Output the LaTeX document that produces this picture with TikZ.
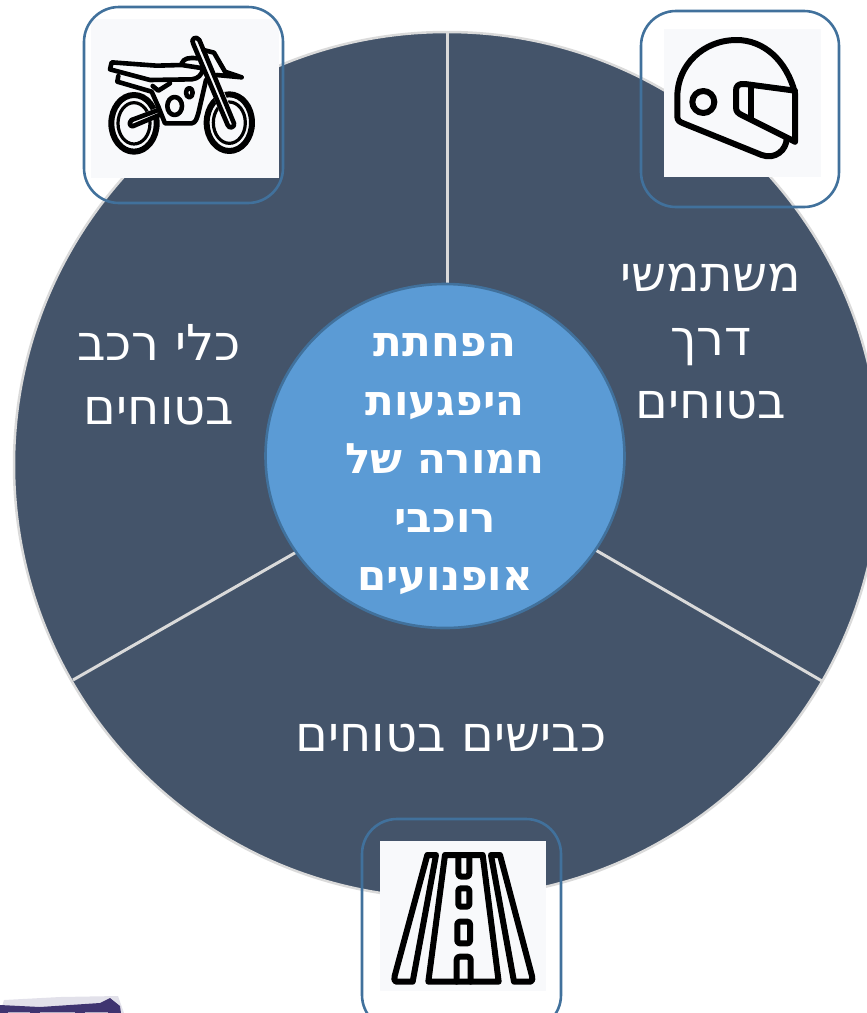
\documentclass[tikz,border=0pt]{standalone}
\usepackage{fontspec}
\setmainfont{DejaVu Sans}
\TeXXeTstate=1
\newcommand{\rl}[1]{\beginR #1\endR}
\definecolor{navy}{HTML}{44546A}
\definecolor{ringc}{HTML}{DADADA}
\definecolor{hubc}{HTML}{5B9BD5}
\definecolor{framec}{HTML}{41719C}
\definecolor{iconbg}{HTML}{F8F9FB}
\definecolor{smear}{HTML}{3F3470}
\tikzset{
 wedgeline/.style={draw=ringc,line width=3pt},
 frame/.style={draw=framec,line width=2.6pt,rounded corners=35pt},
 iconbox/.style={fill=iconbg,draw=none},
 ico/.style={draw=black,line cap=round,line join=round,line width=6pt},
 icom/.style={draw=black,line cap=round,line join=round,line width=4.6pt},
 icot/.style={draw=black,line cap=round,line join=round,line width=3.2pt},
 seglabel/.style={text=white,font=\fontsize{49.5}{63.5}\selectfont,align=center,inner sep=0pt},
 hublabel/.style={text=white,font=\fontsize{42}{58.5}\selectfont\bfseries,align=center,inner sep=0pt},
}
\begin{document}
\begin{tikzpicture}[x=1pt,y=-1pt]
\useasboundingbox (0,0) rectangle (867,1013);
\clip (0,0) rectangle (867,1013);
% main disc
\fill[navy,draw=ringc,line width=2.5pt] (447,465) circle [radius=433];
\coordinate (t1) at (447,32); \coordinate (t2) at (447,290);
\coordinate (l1) at (73,680); \coordinate (l2) at (300,550);
\coordinate (r1) at (822,681); \coordinate (r2) at (592,548);
\draw[wedgeline] (t1) -- (t2);
\draw[wedgeline] (l1) -- (l2);
\draw[wedgeline] (r1) -- (r2);
% hub
\path[fill=hubc,draw=framec,line width=2.6pt] (445,456) ellipse [x radius=179.5,y radius=172];
\node[hublabel] (hub) at (445,464.5) {\rl{הפחתת}\\\rl{היפגעות}\\\rl{חמורה של}\\\rl{רוכבי}\\\rl{אופנועים}};
\node[seglabel] (seg1) at (711,342) {\rl{משתמשי}\\\rl{דרך}\\\rl{בטוחים}};
\node[seglabel] (seg2) at (159,375) {\rl{כלי רכב}\\\rl{בטוחים}};
\node[seglabel] (seg3) at (451,738) {\rl{כבישים בטוחים}};
% icon backgrounds
\fill[iconbox] (664,29) rectangle (821,177);
\fill[iconbox] (91,19) rectangle (279,178);
\fill[iconbox] (380,841) rectangle (546,991);
% helmet
\begin{scope}[shift={(630pt,0pt)},x=0.33333pt,y=-0.33333pt]
 \draw[ico] (495,425) -- (495,280) .. controls (470,180) and (400,120) .. (320,120)
   .. controls (220,120) and (142,195) .. (142,290) -- (142,350)
   .. controls (142,362) and (150,366) .. (160,370) -- (395,465)
   .. controls (435,480) and (470,450) .. (470,415);
 \draw[ico] (495,272) -- (345,252) .. controls (325,250) and (318,258) .. (318,272)
   -- (318,322) .. controls (318,335) and (325,340) .. (335,345) -- (495,425);
 \draw[ico] (362,262) -- (362,352);
 \draw[ico] (220,306) circle [radius=33];
\end{scope}
% motorcycle
\begin{scope}[shift={(60pt,0pt)},x=0.33333pt,y=-0.33333pt]
 \draw[ico] (222,370) ellipse [x radius=68,y radius=85];
 \draw[icot] (222,370) ellipse [x radius=48,y radius=62];
 \draw[ico] (508,368) ellipse [x radius=68,y radius=85];
 \draw[icot] (508,368) ellipse [x radius=48,y radius=62];
 \fill[iconbg] (392,118) -- (425,105) -- (530,370) -- (498,385) -- cycle;
 \fill[iconbg] (210,355) -- (295,322) -- (305,345) -- (220,385) -- cycle;
 \draw[icom] (215,360) -- (295,330);
 \draw[icom] (220,378) -- (298,345);
 \draw[icom] (215,360) .. controls (205,368) and (210,382) .. (220,378);
 \draw[icom] (400,132) .. controls (390,118) and (408,105) .. (418,120) -- (522,370) .. controls (525,382) and (508,388) .. (503,375) -- cycle;
 \draw[icom] (155,187) -- (150,208) -- (270,240) -- (395,238) .. controls (415,236) and (425,225) .. (430,205) -- (365,195) -- (290,197) -- cycle;
 \draw[icom] (365,190) .. controls (372,175) and (385,172) .. (412,175);
 \draw[icom] (430,150) -- (462,158) -- (495,215) -- (545,232) -- (470,225);
 \draw[icom] (175,228) -- (172,245) -- (275,275) -- (295,320);
 \draw[icom] (278,258) -- (295,272) -- (330,250);
 \draw[icom] (295,320) -- (315,370) -- (395,370) .. controls (408,368) and (410,355) .. (415,340) -- (438,240);
 \draw[icom] (344,318) ellipse [x radius=22,y radius=27];
 \draw[icom] (388,278) ellipse [x radius=10,y radius=14];
\end{scope}
% road
\begin{scope}[shift={(350pt,-810pt)},x=0.33333pt,y=-0.33333pt]
 \draw[ico] (232,135) -- (258,135) -- (188,515) -- (138,515) .. controls (132,515) and (132,505) .. (134,498) -- cycle;
 \draw[ico] (423,135) -- (450,135) -- (546,498) .. controls (548,505) and (548,515) .. (542,515) -- (492,515) -- cycle;
 \draw[ico] (285,135) -- (398,135) -- (446,515) -- (235,515) -- cycle;
 \draw[ico] (325,135) -- (325,190) .. controls (325,198) and (330,200) .. (335,200) -- (348,200) .. controls (355,200) and (358,198) .. (358,190) -- (358,135);
 \draw[ico,rounded corners=2.5pt] (325,235) rectangle (358,290);
 \draw[ico,rounded corners=2.5pt] (322,335) rectangle (360,400);
 \draw[ico,rounded corners=3pt] (320,515) -- (320,440) -- (362,440) -- (362,515);
\end{scope}
% frames
\draw[frame] (641,11) rectangle (839,207);
\draw[frame] (84,7) rectangle (283,203);
\draw[frame] (362,819) rectangle (561,1030);
% cropped fragment at lower left
\fill[smear,opacity=.15] (4,1000) -- (60,997) -- (118,996) -- (124,1013) -- (0,1013) -- cycle;
\fill[smear] (0,1005) -- (40,1007) -- (100,1003) -- (110,998) -- (120,1006) -- (121,1013) -- (0,1013) -- cycle;
\fill[white,opacity=.6] (8,1011.5) rectangle (30,1013);
\fill[white,opacity=.6] (40,1011.5) rectangle (75,1013);
\fill[white,opacity=.6] (85,1011.5) rectangle (108,1013);
\end{tikzpicture}
\end{document}
